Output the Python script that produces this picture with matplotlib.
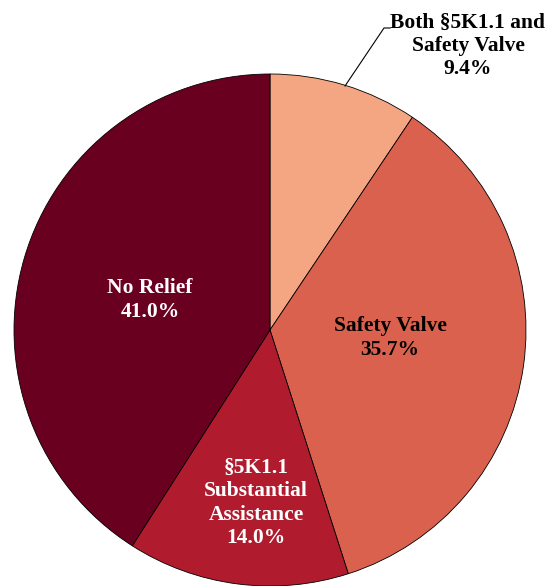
import matplotlib
matplotlib.use("Agg")
import matplotlib.pyplot as plt

categories = ["Both §5K1.1 and\nSafety Valve", "Safety Valve", "§5K1.1\nSubstantial\nAssistance", "No Relief"]
values = [9.4, 35.7, 14.0, 41.0]
colors = ["#F4A683", "#D9614E", "#B01C2E", "#6A0020"]
text_colors = ["black", "black", "white", "white"]

W, H = 546, 586
fig = plt.figure(figsize=(W / 100, H / 100), dpi=100)
ax = fig.add_axes([0, 0, 1, 1])
plt.rcParams['font.family'] = ['Liberation Serif', 'DejaVu Serif']

cx, cy, r = 270, H - 330, 256
wedges, _ = ax.pie(values, colors=colors, startangle=90, counterclock=False,
                   center=(cx, cy), radius=r,
                   wedgeprops=dict(edgecolor="black", linewidth=0.6))
ax.set_xlim(0, W)
ax.set_ylim(0, H)
ax.set_aspect("equal")
ax.axis("off")

fs = 15.5
ls = 1.22
# inside labels (pixel positions from top)
pos = {1: (390, 338), 2: (256, 503), 3: (150, 300)}
for i, (px, py) in pos.items():
    ax.text(px, H - py, f"{categories[i]}\n{values[i]:.1f}%", ha="center", va="center",
            fontsize=fs, fontweight="bold", color=text_colors[i], linespacing=ls,
            family=['Liberation Serif', 'DejaVu Serif'])

# outside label with leader line
ax.plot([345, 384, 390], [H - 86, H - 28, H - 28], color="black", linewidth=0.8)
ax.text(468, H - 46, f"{categories[0]}\n{values[0]:.1f}%", ha="center", va="center",
        fontsize=fs, fontweight="bold", color="black", linespacing=ls,
        family=['Liberation Serif', 'DejaVu Serif'])

fig.savefig("out.png", dpi=100)
